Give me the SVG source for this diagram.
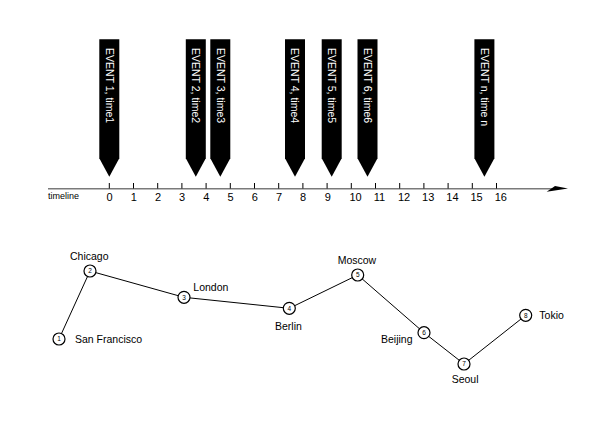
<svg xmlns="http://www.w3.org/2000/svg" width="612" height="427" viewBox="0 0 612 427">
<style>
text{font-family:"Liberation Sans",Arial,sans-serif}
.ban{fill:#000}
.bt{fill:#fff;font-size:10.5px}
.tk{stroke:#000;stroke-width:1}
.tl{font-size:11px;fill:#000}
.edge{stroke:#000;stroke-width:1;fill:none}
.nd{fill:#fff;stroke:#000;stroke-width:1.2}
.nn{font-size:6.5px;text-anchor:middle;fill:#000}
.lb{font-size:10.5px;fill:#000}
</style>
<rect width="612" height="427" fill="#fff"/>
<g id="timeline">
<line x1="48" y1="188.7" x2="556" y2="188.7" stroke="#7a7a7a" stroke-width="1.6"/>
<polygon points="546.7,191.7 555,186 568,188.6" fill="#000"/>
<text x="48" y="198.5" style="font-size:9px" fill="#000">timeline</text>
<g class="tk">
<line x1="109.3" y1="183" x2="109.3" y2="188.5"/>
<line x1="133.5" y1="183" x2="133.5" y2="188.5"/>
<line x1="157.7" y1="183" x2="157.7" y2="188.5"/>
<line x1="181.9" y1="183" x2="181.9" y2="188.5"/>
<line x1="206.1" y1="183" x2="206.1" y2="188.5"/>
<line x1="230.3" y1="183" x2="230.3" y2="188.5"/>
<line x1="254.5" y1="183" x2="254.5" y2="188.5"/>
<line x1="278.7" y1="183" x2="278.7" y2="188.5"/>
<line x1="302.9" y1="183" x2="302.9" y2="188.5"/>
<line x1="327.1" y1="183" x2="327.1" y2="188.5"/>
<line x1="351.3" y1="183" x2="351.3" y2="188.5"/>
<line x1="375.5" y1="183" x2="375.5" y2="188.5"/>
<line x1="399.7" y1="183" x2="399.7" y2="188.5"/>
<line x1="423.9" y1="183" x2="423.9" y2="188.5"/>
<line x1="448.1" y1="183" x2="448.1" y2="188.5"/>
<line x1="472.3" y1="183" x2="472.3" y2="188.5"/>
<line x1="496.5" y1="183" x2="496.5" y2="188.5"/>
</g>
<g class="tl">
<text x="106.5" y="200.5">0</text>
<text x="130.7" y="200.5">1</text>
<text x="154.9" y="200.5">2</text>
<text x="179.1" y="200.5">3</text>
<text x="203.3" y="200.5">4</text>
<text x="227.5" y="200.5">5</text>
<text x="251.7" y="200.5">6</text>
<text x="275.9" y="200.5">7</text>
<text x="300.1" y="200.5">8</text>
<text x="324.8" y="200.5">9</text>
<text x="349.5" y="200.5">10</text>
<text x="373.7" y="200.5">11</text>
<text x="397.9" y="200.5">12</text>
<text x="422.1" y="200.5">13</text>
<text x="446.3" y="200.5">14</text>
<text x="470.5" y="200.5">15</text>
<text x="494.7" y="200.5">16</text>
</g>
</g>
<g id="event1"><path class="ban" d="M99.3,39.3H119.3V158.3L109.3,176.8L99.3,158.3Z"/><text class="bt" transform="translate(105.5,48) rotate(90)">EVENT 1, time1</text></g>
<g id="event2"><path class="ban" d="M185.8,39.3H205.8V158.3L195.8,176.8L185.8,158.3Z"/><text class="bt" transform="translate(192,48) rotate(90)">EVENT 2, time2</text></g>
<g id="event3"><path class="ban" d="M210.3,39.3H230.3V158.3L220.3,176.8L210.3,158.3Z"/><text class="bt" transform="translate(216.5,48) rotate(90)">EVENT 3, time3</text></g>
<g id="event4"><path class="ban" d="M285,39.3H305V158.3L295,176.8L285,158.3Z"/><text class="bt" transform="translate(291.2,48) rotate(90)">EVENT 4, time4</text></g>
<g id="event5"><path class="ban" d="M321.7,39.3H341.7V158.3L331.7,176.8L321.7,158.3Z"/><text class="bt" transform="translate(327.9,48) rotate(90)">EVENT 5, time5</text></g>
<g id="event6"><path class="ban" d="M357.5,39.3H377.5V158.3L367.5,176.8L357.5,158.3Z"/><text class="bt" transform="translate(363.7,48) rotate(90)">EVENT 6, time6</text></g>
<g id="eventn"><path class="ban" d="M474.4,39.3H494.4V158.3L484.4,176.8L474.4,158.3Z"/><text class="bt" transform="translate(480.6,48) rotate(90)">EVENT n, time n</text></g>
<g id="connectors">
<polyline class="edge" points="59,339 90,271 184,297.3 289.3,308.3 357.7,275 424,332.7 464,364 525.7,315.3"/>
</g>
<g id="n1"><circle class="nd" cx="59" cy="339" r="6"/><text class="nn" x="59" y="341.3">1</text><text class="lb" x="75" y="342.7">San Francisco</text></g>
<g id="n2"><circle class="nd" cx="90" cy="271" r="6"/><text class="nn" x="90" y="273.3">2</text><text class="lb" x="70" y="259.5">Chicago</text></g>
<g id="n3"><circle class="nd" cx="184" cy="297.3" r="6"/><text class="nn" x="184" y="299.6">3</text><text class="lb" x="193.3" y="290.7">London</text></g>
<g id="n4"><circle class="nd" cx="289.3" cy="308.3" r="6"/><text class="nn" x="289.3" y="310.6">4</text><text class="lb" x="275" y="329.5">Berlin</text></g>
<g id="n5"><circle class="nd" cx="357.7" cy="275" r="6"/><text class="nn" x="357.7" y="277.3">5</text><text class="lb" x="337.7" y="264.3">Moscow</text></g>
<g id="n6"><circle class="nd" cx="424" cy="332.7" r="6"/><text class="nn" x="424" y="335">6</text><text class="lb" x="381" y="343.3">Beijing</text></g>
<g id="n7"><circle class="nd" cx="464" cy="364" r="6"/><text class="nn" x="464" y="366.3">7</text><text class="lb" x="451.7" y="382.7">Seoul</text></g>
<g id="n8"><circle class="nd" cx="525.7" cy="315.3" r="6"/><text class="nn" x="525.7" y="317.6">8</text><text class="lb" x="539.3" y="319.3">Tokio</text></g>
</svg>
